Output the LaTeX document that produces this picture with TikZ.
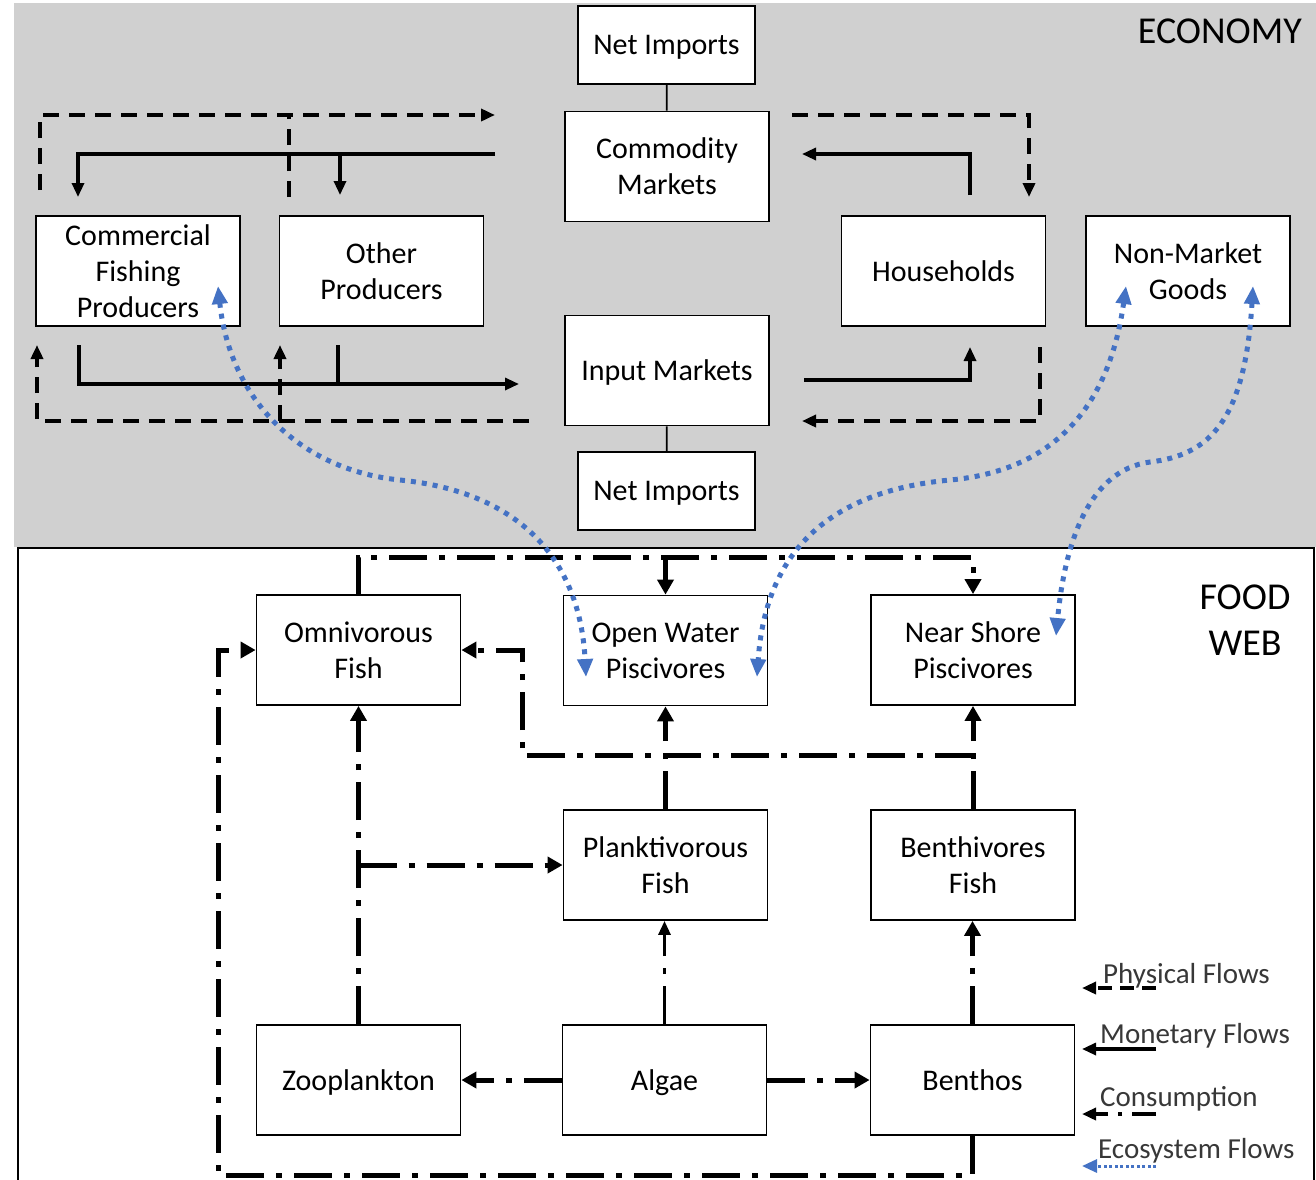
\documentclass[tikz,border=0pt]{standalone}
\usepackage{fontspec}
\setmainfont{Carlito}
\usetikzlibrary{arrows.meta,calc}
\definecolor{econgray}{RGB}{208,208,208}
\definecolor{ecoblue}{RGB}{68,114,196}
\begin{document}
\begin{tikzpicture}[x=1pt,y=-1pt,
  box/.style={draw=black,line width=1.8pt,fill=white,minimum width=204pt,minimum height=110pt,
    inner sep=0pt,align=center,font=\fontsize{30}{36}\selectfont},
  single/.style={text depth=0pt},
  smallbox/.style={box,single,minimum width=177pt,minimum height=78pt},
  phys/.style={line width=3.6pt,dash pattern=on 16pt off 10pt},
  mon/.style={line width=3.2pt},
  cons/.style={line width=5pt,dash pattern=on 38pt off 12pt on 6pt off 12pt},
  eco/.style={draw=ecoblue,line width=5pt,dash pattern=on 5pt off 6pt},
  tipE/.style={-{Triangle[length=14pt,width=12pt]}},
  tipF/.style={-{Triangle[length=15pt,width=16pt]}},
  tipB/.style={{Triangle[length=18pt,width=15pt]}-{Triangle[length=18pt,width=15pt]}},
  title/.style={font=\fontsize{38}{46}\selectfont,inner sep=0pt},
  legtext/.style={font=\fontsize{29}{34}\selectfont,text=black!78,inner sep=0pt,anchor=base west},
]
\useasboundingbox (0,0) rectangle (1316,1179);

% economy panel and food web frame
\fill[econgray] (14,3) rectangle (1316,547);
\fill[white] (18,548) rectangle (1316,1179);
\draw[line width=2pt] (18,1185) -- (18,548) -- (1314,548) -- (1314,1185);

% ---------- economy ----------
\node[smallbox] (ni1) at (666.5,45) {Net Imports};
\node[box] (cm) at (667,166.5) {Commodity\\Markets};
\node[box] (cfp) at (138,271) {Commercial\\Fishing\\Producers};
\node[box] (op) at (381.5,271) {Other\\Producers};
\node[box,single] (hh) at (943.5,271) {Households};
\node[box] (nmg) at (1188,271) {Non-Market\\Goods};
\node[box,single] (im) at (667,370.5) {Input Markets};
\node[smallbox] (ni2) at (666.5,491) {Net Imports};

\node[title,anchor=base east] (econ) at (1302,43) {ECONOMY};

\draw[line width=1.8pt] (ni1) -- (cm);
\draw[line width=1.8pt] (im) -- (ni2);

% connector end points
\coordinate (phyTopL) at (40,190);
\coordinate (phyTopEnd) at (495,115);
\coordinate (phyOP) at (289,197);
\coordinate (monTopStart) at (495,154);
\coordinate (monCFP) at (78,197);
\coordinate (monOP) at (340,195);
\coordinate (monHH) at (970,195);
\coordinate (monCMend) at (802,154);
\coordinate (phyCMstart) at (792,115);
\coordinate (phyHH) at (1029,197);
\coordinate (monCFPb) at (79,345);
\coordinate (monIMend) at (519,384);
\coordinate (monOPb) at (338,345);
\coordinate (phyIMstart) at (529,421);
\coordinate (phyCFPb) at (37,345);
\coordinate (phyOPb) at (280,345);
\coordinate (monIMstart) at (804,380);
\coordinate (monHHb) at (970,347);
\coordinate (phyHHb) at (1040,347);
\coordinate (phyIMend) at (802,421);

% physical flows
\draw[phys,tipE] (phyTopL) |- (phyTopEnd);
\draw[phys] (phyOP) -- (phyOP |- phyTopEnd);
\draw[phys,tipE] (phyCMstart) -| (phyHH);
\draw[phys,tipE] (phyIMstart) -| (phyCFPb);
\draw[phys,tipE] (phyOPb |- phyIMstart) -- (phyOPb);
\draw[phys,tipE] (phyHHb) |- (phyIMend);

% monetary flows
\draw[mon,tipE] (monTopStart) -| (monCFP);
\draw[mon,tipE] (monOP |- monTopStart) -- (monOP);
\draw[mon,tipE] (monHH) |- (monCMend);
\draw[mon,tipE] (monCFPb) |- (monIMend);
\draw[mon] (monOPb) -- (monOPb |- monIMend);
\draw[mon,tipE] (monIMstart) -| (monHHb);

% ---------- food web ----------
\node[box] (omni) at (358.5,650) {Omnivorous\\Fish};
\node[box] (ow) at (665.5,650.5) {Open Water\\Piscivores};
\node[box] (ns) at (973,650) {Near Shore\\Piscivores};
\node[box] (pf) at (665.5,865) {Planktivorous\\Fish};
\node[box] (bf) at (973,865) {Benthivores\\Fish};
\node[box,single] (zoo) at (358.5,1080) {Zooplankton};
\node[box,single] (alg) at (664.5,1080) {Algae};
\node[box,single] (ben) at (972.5,1080) {Benthos};

\node[title,anchor=base] (food) at (1245,609) {FOOD};
\node[title,anchor=base] (web) at (1245,655) {WEB};

\coordinate (topLine) at (359,557);
\coordinate (midLine) at (973,755);
\coordinate (midCorner) at (522,650);
\coordinate (fwBL) at (218,1175);
\coordinate (fwOmL) at (218,650);

% consumption
\draw[cons,tipF] (omni.north) |- (topLine) -| (ns.north);
\draw[cons,tipF] (ow.north |- topLine) -- (ow.north);
\draw[cons,tipF] (pf.north) -- (ow.south);
\draw[cons,tipF] (bf.north) -- (ns.south);
\draw[cons,tipF] (midLine) -| (midCorner) -- (omni.east);
\draw[cons,tipF] (zoo.north) -- (omni.south);
\draw[cons,tipF] (zoo.north |- pf.west) -- (pf.west);
\draw[cons,line width=3pt,tipE] (alg.north) -- (alg.north |- pf.south);
\draw[cons,tipF] (ben.north) -- (ben.north |- bf.south);
\draw[cons,tipF] (alg.west) -- (zoo.east);
\draw[cons,tipF] (alg.east) -- (ben.west);
\draw[cons,tipF] (ben.south) |- (fwBL) -- (fwOmL) -- (omni.west);

% ecosystem flows
\coordinate (ecoCFP) at (218,286);
\coordinate (ecoOWL) at (586,677);
\coordinate (ecoNMGL) at (1126,286);
\coordinate (ecoOWR) at (757,677);
\coordinate (ecoNMGR) at (1253,286);
\coordinate (ecoNS) at (1056,636);
\draw[eco,tipB] (ecoCFP) .. controls (230,400) and (300,470) .. (400,480)
  .. controls (520,492) and (580,560) .. (ecoOWL);
\draw[eco,tipB] (ecoNMGL) .. controls (1110,400) and (1060,470) .. (950,480)
  .. controls (820,492) and (765,560) .. (ecoOWR);
\draw[eco,tipB] (ecoNMGR) .. controls (1245,420) and (1210,455) .. (1150,462)
  .. controls (1090,470) and (1065,540) .. (ecoNS);

% ---------- legend ----------
\node[legtext] (lgPhys) at (1103,983) {Physical Flows};
\node[legtext] (lgMon) at (1100,1043) {Monetary Flows};
\node[legtext] (lgCons) at (1100,1106) {Consumption};
\node[legtext] (lgEco) at (1098,1158) {Ecosystem Flows};
\coordinate (lgPhysA) at (1156,988);  \coordinate (lgPhysB) at (1082,988);
\coordinate (lgMonA) at (1156,1049);  \coordinate (lgMonB) at (1082,1049);
\coordinate (lgConsA) at (1156,1114); \coordinate (lgConsB) at (1082,1114);
\coordinate (lgEcoA) at (1156,1166);  \coordinate (lgEcoB) at (1082,1166);
\draw[line width=3.4pt,dash pattern=on 14pt off 8pt,-{Triangle[length=14pt,width=12pt]}] (lgPhysA) -- (lgPhysB);
\draw[line width=3.2pt,-{Triangle[length=14pt,width=12pt]}] (lgMonA) -- (lgMonB);
\draw[line width=3.4pt,dash pattern=on 24pt off 10pt on 4pt off 10pt,-{Triangle[length=14pt,width=12pt]}] (lgConsA) -- (lgConsB);
\draw[draw=ecoblue,line width=3pt,dash pattern=on 3pt off 2.5pt,-{Triangle[length=15pt,width=13pt,fill=ecoblue]}] (lgEcoA) -- (lgEcoB);
\end{tikzpicture}
\end{document}
